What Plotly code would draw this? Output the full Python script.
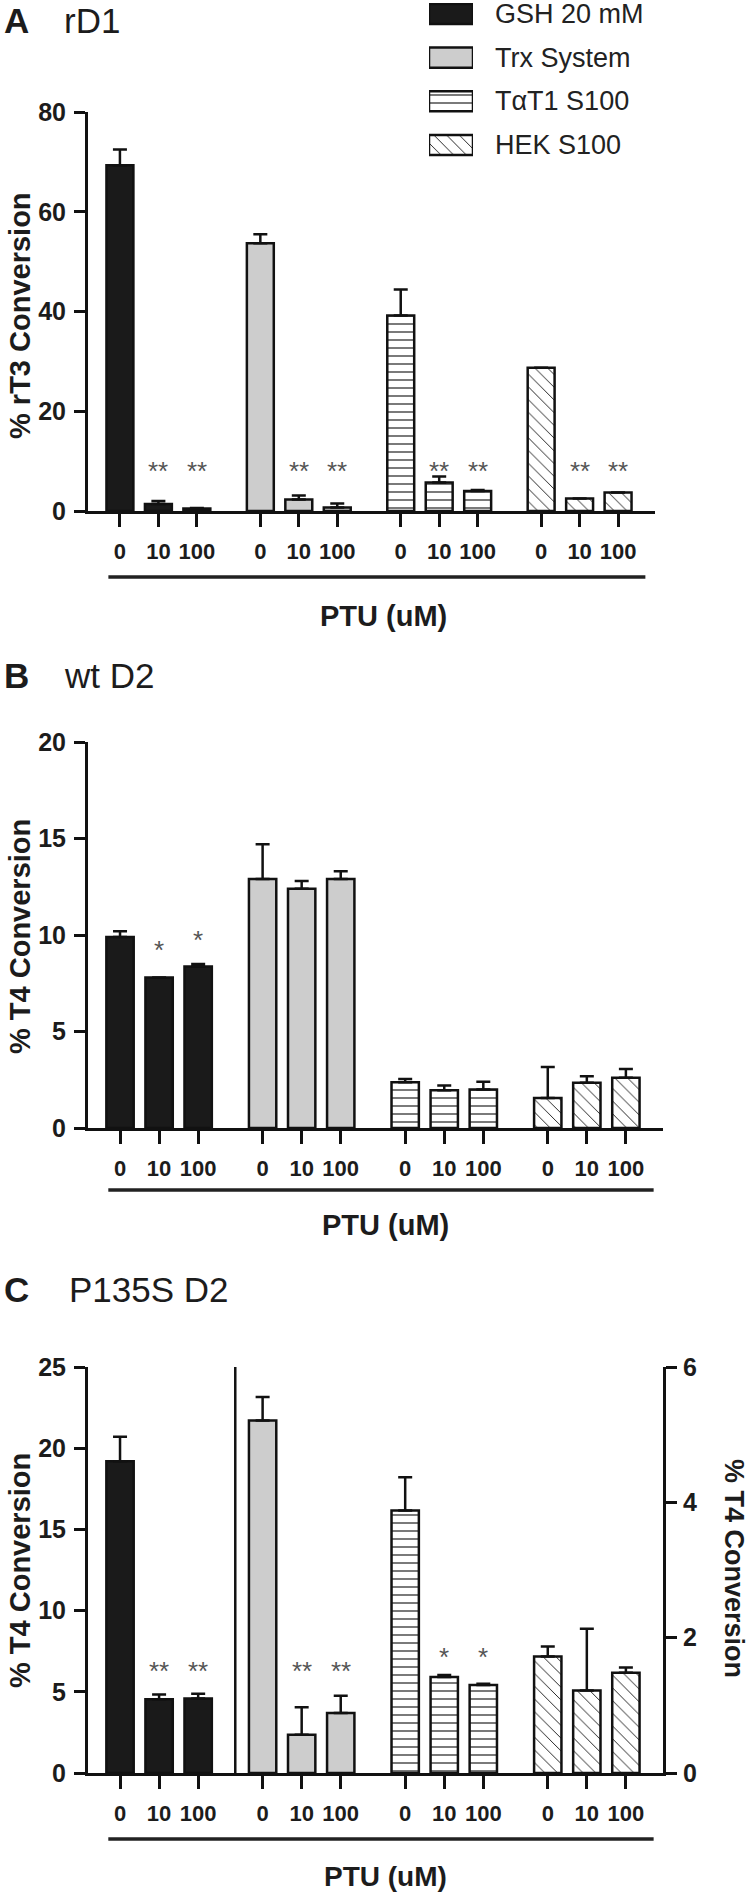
import plotly.graph_objects as go

# ---------------- data ----------------
series = ["GSH 20 mM", "Trx System", "TαT1 S100", "HEK S100"]
conc_labels = ["0", "10", "100"]

# Panel A: rD1, % rT3 conversion
a_means = [[69.3, 1.4, 0.5], [53.7, 2.3, 0.7], [39.2, 5.7, 4.0], [28.7, 2.5, 3.7]]
a_errs = [[3.2, 0.6, 0.1], [1.8, 0.8, 0.8], [5.2, 1.2, 0.2], [0.0, 0.0, 0.0]]
a_stars = [["", "**", "**"], ["", "**", "**"], ["", "**", "**"], ["", "**", "**"]]
a_star_y = 9.3

# Panel B: wt D2, % T4 conversion
b_means = [[9.9, 7.8, 8.37], [12.9, 12.4, 12.9], [2.37, 1.95, 2.0], [1.56, 2.34, 2.6]]
b_errs = [[0.3, 0.0, 0.13], [1.8, 0.4, 0.4], [0.17, 0.25, 0.4], [1.6, 0.34, 0.46]]
b_stars = [["", "*", "*"], ["", "", ""], ["", "", ""], ["", "", ""]]
b_star_y = [[0, 9.53, 10.05], [0, 0, 0], [0, 0, 0], [0, 0, 0]]

# Panel C: P135S D2, % T4 conversion (GSH, Trx on left axis; S100 on right axis)
c_means = [[19.2, 4.54, 4.58], [21.7, 2.35, 3.7], [3.88, 1.42, 1.30], [1.72, 1.22, 1.48]]
c_errs = [[1.5, 0.3, 0.3], [1.45, 1.7, 1.05], [0.49, 0.03, 0.02], [0.15, 0.91, 0.08]]
c_axis = ["left", "left", "right", "right"]
c_stars = [["", "**", "**"], ["", "**", "**"], ["", "*", "*"], ["", "", ""]]
c_star_y = [[0, 6.67, 6.67], [0, 6.67, 6.67], [0, 1.8, 1.8], [0, 0, 0]]

# ---------------- layout helpers ----------------
W, H = 750, 1895
def PX(x): return x / W
def PY(y): return 1 - y / H

GROUP_STEP = 3.65
def positions(g):
    return [GROUP_STEP * g + k for k in range(3)]

all_pos = [p for g in range(4) for p in positions(g)]
all_ticktext = conc_labels * 4

FONT = "Liberation Sans, Arial, sans-serif"
INK = "#1c1c1c"
styles = [
    dict(color="#1a1a1a", pattern=None),
    dict(color="#cdcdcd", pattern=None),
    dict(color="white", pattern=dict(shape="-", fgcolor="#111", bgcolor="white", size=8, solidity=0.14, fillmode="replace")),
    dict(color="white", pattern=dict(shape="\\", fgcolor="#111", bgcolor="white", size=9, solidity=0.1, fillmode="replace")),
]

fig = go.Figure()
annotations = []
shapes = []

def add_panel(means, errs, xa, ya_list):
    for g in range(4):
        st = styles[g]
        marker = dict(color=st["color"], line=dict(color="#111", width=2.5))
        if st["pattern"]:
            marker["pattern"] = st["pattern"]
        fig.add_trace(go.Bar(
            x=positions(g), y=means[g], width=0.7, marker=marker,
            error_y=dict(type="data", symmetric=False, array=errs[g], arrayminus=[0, 0, 0],
                         color="#111", thickness=2.5, width=7),
            xaxis=xa, yaxis=ya_list[g], showlegend=False, hoverinfo="skip"))

add_panel(a_means, a_errs, "x", ["y"] * 4)
add_panel(b_means, b_errs, "x2", ["y2"] * 4)
add_panel(c_means, c_errs, "x3", ["y3" if c_axis[g] == "left" else "y4" for g in range(4)])

# stars
def add_stars(stars, ys, xref, yrefs):
    for g in range(4):
        for k in range(3):
            if stars[g][k]:
                yv = ys[g][k] if isinstance(ys, list) else ys
                annotations.append(dict(text=stars[g][k], x=positions(g)[k], y=yv,
                                        xref=xref, yref=yrefs[g], showarrow=False,
                                        xanchor="center", yanchor="middle", yshift=-6,
                                        font=dict(family=FONT, size=26, color="#555")))

add_stars(a_stars, a_star_y, "x", ["y"] * 4)
add_stars(b_stars, b_star_y, "x2", ["y2"] * 4)
add_stars(c_stars, c_star_y, "x3", ["y3" if c_axis[g] == "left" else "y4" for g in range(4)])

# legend drawn as swatch bars on its own hidden axis
leg_rows = [3, 2, 1, 0]
for g in range(4):
    st = styles[g]
    marker = dict(color=st["color"], line=dict(color="#111", width=2.5))
    if st["pattern"]:
        marker["pattern"] = st["pattern"]
    fig.add_trace(go.Bar(x=[1], y=[leg_rows[g]], orientation="h", width=0.46, marker=marker,
                         xaxis="x5", yaxis="y5", showlegend=False, hoverinfo="skip"))
    annotations.append(dict(text=series[g], x=PX(493), y=leg_rows[g], xref="paper", yref="y5",
                            showarrow=False, xanchor="left", yanchor="middle",
                            font=dict(family=FONT, size=27, color="#222")))

axis_common = dict(showline=True, linecolor="#111", linewidth=3, showgrid=False, zeroline=False,
                   ticks="outside", tickwidth=3, tickcolor="#111", automargin=False)
xfont = dict(family=FONT, size=22, color=INK, weight="bold")
yfont = dict(family=FONT, size=25, color=INK, weight="bold")

def xaxis_def(dom, rng, anchor):
    return dict(axis_common, domain=dom, range=rng, anchor=anchor, tickvals=all_pos,
                ticktext=all_ticktext, ticklen=13, tickfont=xfont, fixedrange=True,
                ticklabelstandoff=6)

def yaxis_def(dom, rng, dtick, anchor, standoff=3):
    return dict(axis_common, domain=dom, range=rng, anchor=anchor, dtick=dtick, tick0=0,
                ticklen=11, tickfont=yfont, fixedrange=True, ticklabelstandoff=standoff)

fig.update_layout(
    template="none",
    width=W, height=H, margin=dict(l=0, r=0, t=0, b=0, pad=0, autoexpand=False),
    paper_bgcolor="white", plot_bgcolor="rgba(0,0,0,0)",
    barmode="overlay", showlegend=False,
    xaxis=xaxis_def([PX(88), PX(655)], [-0.83, 13.91], "y"),
    yaxis=yaxis_def([PY(511), PY(112)], [0, 80], 20, "x"),
    xaxis2=xaxis_def([PX(88), PX(663)], [-0.82, 13.9], "y2"),
    yaxis2=yaxis_def([PY(1128), PY(742)], [0, 20], 5, "x2"),
    xaxis3=xaxis_def([PX(88), PX(663)], [-0.82, 13.9], "y3"),
    yaxis3=yaxis_def([PY(1773), PY(1367)], [0, 25], 5, "x3"),
    yaxis4=dict(yaxis_def([PY(1773), PY(1367)], [0, 6], 2, "x3", 1), overlaying="y3", side="right"),
    xaxis5=dict(domain=[PX(429), PX(473)], range=[0, 1], anchor="y5", visible=False,
                fixedrange=True, automargin=False),
    yaxis5=dict(domain=[PY(157), PY(3)], range=[-0.275, 3.252], anchor="x5", visible=False,
                fixedrange=True, automargin=False),
)

# separator lines under the tick labels, and the extra vertical line in C
for xref, ypx in [("x", 577), ("x2", 1190), ("x3", 1839)]:
    shapes.append(dict(type="line", xref=xref, yref="paper", x0=-0.3, x1=13.66,
                       y0=PY(ypx), y1=PY(ypx), line=dict(color="#222", width=3.5)))
shapes.append(dict(type="line", xref="x3", yref="y3", x0=2.95, x1=2.95, y0=0, y1=25,
                   line=dict(color="#111", width=2.5)))

# titles
def txt(text, x, y, size, bold=False, anchor="left", angle=0):
    annotations.append(dict(text=text, x=PX(x), y=PY(y), xref="paper", yref="paper", showarrow=False,
                            xanchor=anchor, yanchor="middle", textangle=angle,
                            font=dict(family=FONT, size=size, color=INK, weight="bold" if bold else "normal")))

txt("A", 2, 20, 35, True)
txt("rD1", 62, 20, 35)
txt("B", 2, 675, 35, True)
txt("wt D2", 62, 675, 35)
txt("C", 2, 1289, 35, True)
txt("P135S D2", 67, 1289, 35)

txt("PTU (uM)", 383, 616, 29, True, "center")
txt("PTU (uM)", 385, 1225, 29, True, "center")
txt("PTU (uM)", 385, 1876, 28, True, "center")

txt("% rT3 Conversion", 20, 316, 29, True, "center", -90)
txt("% T4 Conversion", 20, 937, 29, True, "center", -90)
txt("% T4 Conversion", 20, 1571, 29, True, "center", -90)
txt("% T4 Conversion", 734, 1568, 27, True, "center", 90)

fig.update_layout(annotations=annotations, shapes=shapes)
fig.write_html(
    "out.html",
    config={"displayModeBar": False, "staticPlot": True},
    post_script="document.documentElement.style.margin='0';document.body.style.margin='0';"
                "document.body.style.overflow='hidden';",
)
